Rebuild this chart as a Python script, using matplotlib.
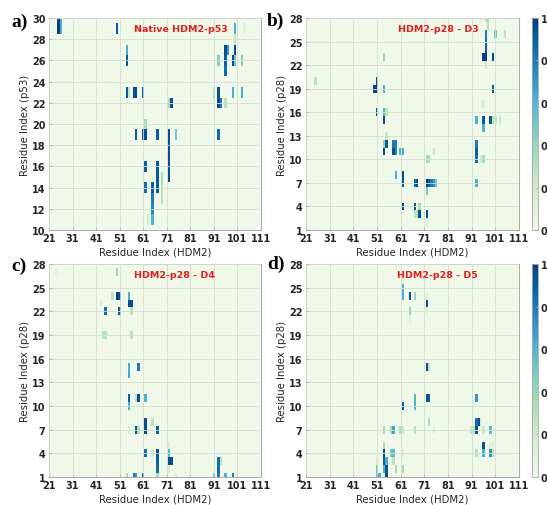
import numpy as np
import matplotlib
matplotlib.use('Agg')
import matplotlib.pyplot as plt
from matplotlib.colors import ListedColormap

plt.rcParams['font.family'] = ['DejaVu Sans']
plt.rcParams['font.weight'] = 'bold'

### Residue ranges and ticks
hdm2_res = np.arange(21, 112)
p53_res = np.arange(10, 31)
p28_res = np.arange(1, 29)
xticks = np.arange(21, 112, 10)
yticks_p53 = np.arange(10, 31, 2)
yticks_p28 = np.arange(1, 29, 3)
cbar_ticks = [0, 0.2, 0.4, 0.6, 0.8, 1]
cbar_labels = ['0', '0.2', '0.4', '0.6', '0.8', '1']

### Contacts: (HDM2 residue, peptide residue, contact probability)
contacts_a = [(25, 30, 1.0), (25, 29, 1.0), (26, 30, 0.62), (26, 29, 0.62),
              (50, 29, 0.92), (100, 29, 0.62), (104, 29, 0.12), (100, 28, 0.25),
              (54, 27, 0.62), (54, 26, 0.92),
              (96, 27, 0.95), (97, 27, 0.7), (100, 27, 0.95),
              (93, 26, 0.45), (96, 26, 0.9), (99, 26, 0.95), (100, 26, 0.5), (103, 26, 0.45),
              (96, 25, 0.85),
              (54, 23, 0.92), (55, 23, 0.25), (57, 23, 0.95), (58, 23, 0.95), (61, 23, 0.9),
              (91, 23, 0.3), (93, 23, 0.95), (99, 23, 0.62), (103, 23, 0.62),
              (72, 22, 0.35), (73, 22, 0.95), (93, 22, 0.95), (94, 22, 0.8), (96, 22, 0.3),
              (62, 20, 0.35),
              (58, 19, 0.9), (61, 19, 0.95), (62, 19, 0.95), (67, 19, 0.9), (72, 19, 0.95),
              (75, 19, 0.5), (93, 19, 0.85),
              (72, 18, 0.95), (72, 17, 0.95), (72, 16, 0.95), (72, 15, 0.95),
              (62, 16, 0.9), (67, 16, 0.92), (67, 15, 0.92), (67, 14, 0.92),
              (69, 15, 0.35), (69, 14, 0.3), (69, 13, 0.3),
              (62, 14, 0.85), (65, 14, 0.9), (65, 13, 0.8), (65, 12, 0.75), (65, 11, 0.6),
              (63, 11, 0.2)]

contacts_b = [(97, 28, 0.3), (98, 28, 0.35), (98, 27, 0.3), (95, 28, 0.15),
              (97, 26, 0.8), (97, 25, 0.85), (97, 24, 0.9), (96, 23, 1.0), (97, 23, 1.0),
              (101, 26, 0.5), (105, 26, 0.3), (100, 23, 0.95), (97, 22, 0.2),
              (100, 19, 0.9), (96, 17, 0.15),
              (93, 15, 0.62), (96, 15, 0.92), (96, 14, 0.62), (99, 15, 0.92),
              (100, 15, 0.3), (101, 15, 0.25), (103, 15, 0.25),
              (93, 12, 0.8), (93, 11, 0.9), (93, 10, 0.85), (95, 10, 0.2), (96, 10, 0.35),
              (93, 7, 0.62),
              (25, 20, 0.3),
              (51, 20, 0.92), (50, 19, 1.0), (51, 19, 1.0), (54, 19, 0.62),
              (54, 23, 0.4),
              (51, 16, 0.92), (54, 16, 0.6), (55, 16, 0.3), (54, 15, 0.95),
              (55, 13, 0.25), (54, 12, 0.4), (55, 12, 0.92), (58, 12, 0.8), (59, 12, 0.8),
              (54, 11, 0.95), (58, 11, 0.95), (59, 11, 0.75), (61, 11, 0.6), (62, 11, 0.62),
              (75, 11, 0.25), (72, 10, 0.35), (73, 10, 0.35),
              (59, 8, 0.62), (62, 8, 0.95), (62, 7, 0.92),
              (67, 7, 0.85), (68, 7, 0.95), (72, 7, 1.0), (73, 7, 0.9), (74, 7, 0.8),
              (75, 7, 0.7), (76, 7, 0.5), (72, 6, 0.5),
              (62, 4, 0.95), (67, 4, 0.92), (69, 4, 0.35),
              (67, 3, 0.3), (68, 3, 0.3), (69, 3, 0.95), (72, 3, 0.95), (72, 2, 0.15)]

contacts_c = [(24, 27, 0.1), (50, 27, 0.4),
              (48, 24, 0.3), (50, 24, 1.0), (51, 24, 0.95), (55, 24, 0.62),
              (43, 23, 0.15), (55, 23, 0.95), (56, 23, 0.95),
              (45, 22, 0.85), (51, 22, 0.9), (56, 22, 0.3),
              (44, 19, 0.3), (45, 19, 0.3), (56, 19, 0.3),
              (55, 15, 0.62), (55, 14, 0.65), (59, 15, 0.8),
              (55, 11, 0.9), (55, 10, 0.62), (58, 11, 0.3), (59, 11, 0.95), (62, 11, 0.6),
              (62, 8, 0.95), (62, 7, 0.95), (65, 8, 0.3), (67, 7, 0.9), (58, 7, 0.95),
              (59, 7, 0.35), (55, 7, 0.15),
              (62, 4, 0.85), (67, 4, 0.95), (67, 3, 0.9), (67, 2, 0.85), (65, 4, 0.2),
              (72, 4, 0.6), (72, 5, 0.15), (72, 3, 0.95), (73, 3, 0.95), (72, 2, 0.15),
              (54, 1, 0.35), (57, 1, 0.8), (58, 1, 0.7), (61, 1, 0.9), (67, 1, 0.35),
              (75, 1, 0.15), (91, 1, 0.5), (93, 3, 0.85), (93, 2, 0.85), (93, 1, 0.8),
              (94, 3, 0.3), (96, 1, 0.62), (99, 1, 0.8)]

contacts_d = [(59, 28, 0.15), (65, 28, 0.12),
              (62, 25, 0.62), (62, 24, 0.62), (65, 24, 0.95), (67, 24, 0.4), (72, 24, 0.12),
              (72, 23, 0.95), (65, 22, 0.4), (72, 22, 0.15), (65, 21, 0.1),
              (72, 15, 0.95), (73, 15, 0.3),
              (67, 11, 0.6), (67, 10, 0.6), (72, 11, 0.95), (73, 11, 0.9), (93, 11, 0.7),
              (62, 10, 0.9),
              (73, 8, 0.35), (93, 8, 0.85), (94, 8, 0.95), (95, 8, 0.15), (93, 7, 0.92),
              (54, 7, 0.35), (57, 7, 0.35), (58, 7, 0.65), (61, 7, 0.35), (62, 7, 0.25),
              (67, 7, 0.3), (75, 7, 0.12),
              (91, 7, 0.25), (92, 7, 0.3), (96, 7, 0.2), (99, 7, 0.55),
              (96, 5, 0.95), (99, 5, 0.12), (100, 5, 0.12),
              (93, 4, 0.3), (96, 4, 0.62), (99, 4, 0.7), (100, 4, 0.3),
              (54, 5, 0.35), (54, 4, 0.95), (54, 3, 0.9), (57, 4, 0.5), (58, 4, 0.55),
              (62, 4, 0.15), (55, 3, 0.62), (58, 3, 0.3), (59, 2, 0.35), (51, 3, 0.15),
              (51, 2, 0.55), (51, 1, 0.5), (54, 2, 0.62), (55, 2, 0.92), (55, 1, 0.95),
              (62, 2, 0.35), (52, 1, 0.62)]

titles = ['Native HDM2-p53', 'HDM2-p28 - D3', 'HDM2-p28 - D4', 'HDM2-p28 - D5']
ylabels = ['Residue Index (p53)', 'Residue Index (p28)',
           'Residue Index (p28)', 'Residue Index (p28)']
panel_tags = ['a)', 'b)', 'c)', 'd)']


def contact_map(contacts, pep_res):
    mat = np.zeros((len(pep_res), len(hdm2_res)))
    for x, y, v in contacts:
        mat[y - pep_res[0], x - hdm2_res[0]] = v
    return mat


### GnBu, starting from a slightly greener white
cmap = ListedColormap(plt.get_cmap('GnBu')(np.linspace(0.04, 1, 256)))

W, H = 547., 506.
fig = plt.figure(figsize=(W / 100, H / 100), dpi=100)

### axes boxes in pixels: left, top, width, height
boxes = [(49, 19, 212, 212), (306, 19, 213, 212),
         (49, 265, 212, 213), (306, 265, 213, 213)]
tag_pos = [(11, 27), (267, 26), (11, 271), (267, 269)]
title_x = [0.62, 0.62, 0.59, 0.615]

panels = [(contacts_a, p53_res, yticks_p53), (contacts_b, p28_res, yticks_p28),
          (contacts_c, p28_res, yticks_p28), (contacts_d, p28_res, yticks_p28)]

grey = '#a9a9a9'
txt = '#262626'
for i, (contacts, pep_res, yt) in enumerate(panels):
    l, t, w, h = boxes[i]
    ax = fig.add_axes([l / W, 1 - (t + h) / H, w / W, h / H])
    mat = contact_map(contacts, pep_res)
    xe = np.append(hdm2_res - 0.5, hdm2_res[-1] + 0.5)
    ye = np.append(pep_res - 0.5, pep_res[-1] + 0.5)
    mesh = ax.pcolormesh(xe, ye, mat, cmap=cmap, vmin=0, vmax=1)
    ax.set_xlim(21, 111)
    ax.set_ylim(pep_res[0], pep_res[-1])
    ax.set_xticks(xticks)
    ax.set_yticks(yt)
    ax.grid(True, color='#d6ddd0', linewidth=0.6)
    ax.set_axisbelow(False)
    for sp in ax.spines.values():
        sp.set_color(grey)
        sp.set_linewidth(0.7)
    ax.tick_params(direction='in', length=2, width=0.5, color=grey,
                   labelsize=7, labelcolor=txt, pad=2.5)
    ax.set_xlabel('Residue Index (HDM2)', fontsize=7.3, color=txt, labelpad=2.5)
    ax.set_ylabel(ylabels[i], fontsize=7.3, color=txt, labelpad=1.5)
    ax.text(title_x[i], 0.95, titles[i], transform=ax.transAxes, ha='center',
            va='center', color='#e0201e', fontsize=6.8)
    fig.text(tag_pos[i][0] / W, 1 - tag_pos[i][1] / H, panel_tags[i], ha='left',
             va='baseline', fontsize=14,
             family=['Liberation Serif', 'DejaVu Serif'])

    if i in (1, 3):
        cax = fig.add_axes([532 / W, 1 - (t + h) / H, 6 / W, h / H])
        cb = fig.colorbar(mesh, cax=cax, ticks=cbar_ticks)
        cb.ax.set_yticklabels(cbar_labels)
        cb.outline.set_edgecolor(grey)
        cb.outline.set_linewidth(0.6)
        cb.ax.tick_params(direction='in', length=2, width=0.5, color=grey,
                          labelsize=7, labelcolor=txt, pad=2)

plt.savefig('out.png', dpi=100)
